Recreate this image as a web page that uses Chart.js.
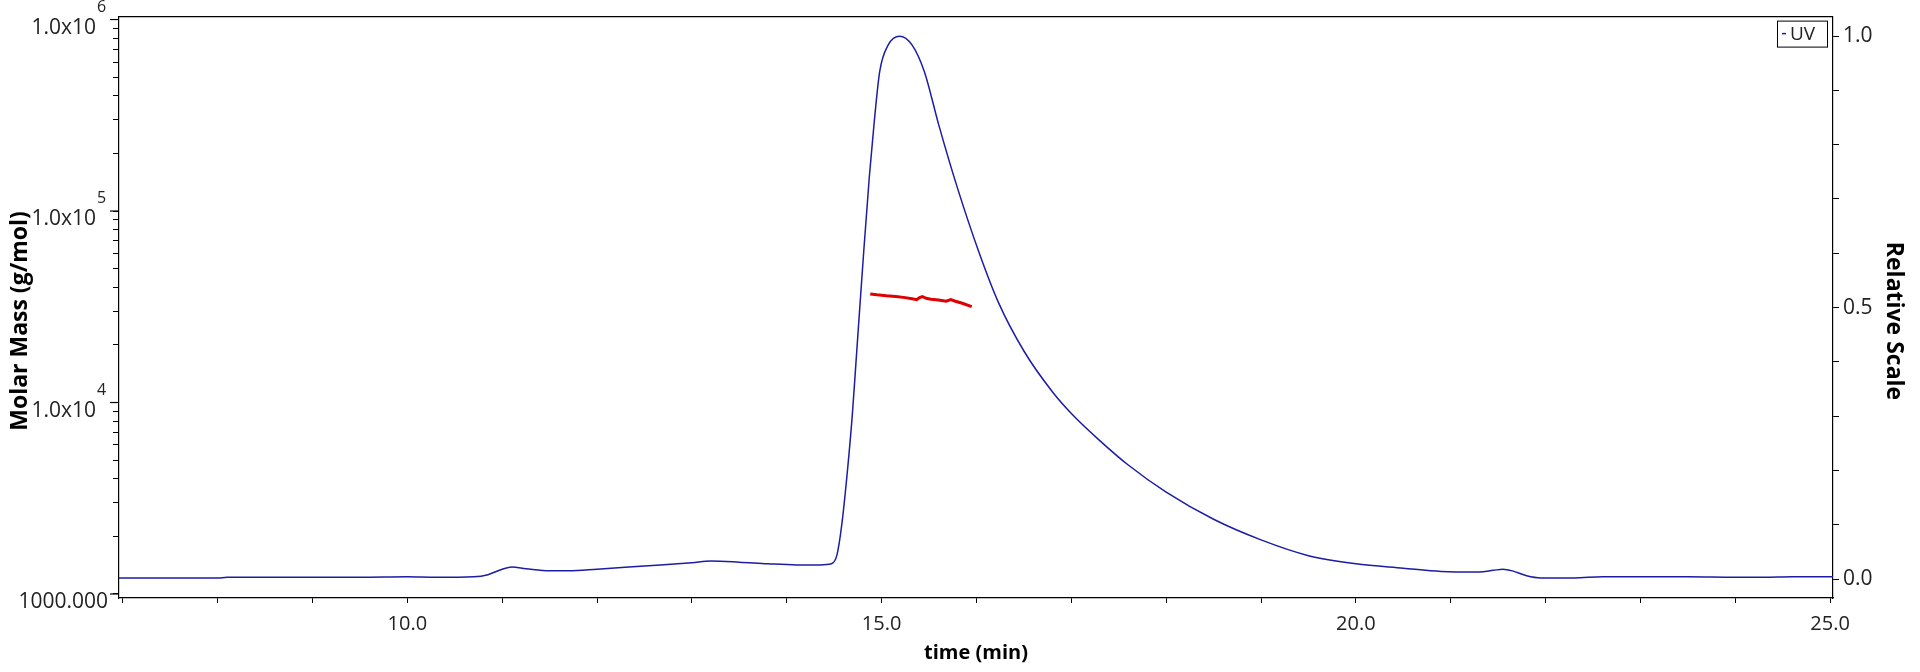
<!DOCTYPE html>
<html>
<head>
<meta charset="utf-8">
<script src="https://cdn.jsdelivr.net/npm/chart.js@4.4.1/dist/chart.umd.min.js"></script>
<style>
    html, body { margin: 0; padding: 0; background: #fff; }
</style>
</head>
<body>
<canvas id="secChart" width="1920" height="672"></canvas>
<script>
// UV trace (relative scale, right axis)
const uvTime = [6.96, 8.0, 8.1, 8.8, 9.5, 10.0, 10.3, 10.7, 10.85, 11.0, 11.1, 11.25, 11.5, 11.7, 12.0, 12.5, 13.0, 13.2, 13.5, 13.8, 14.1, 14.35, 14.47, 14.53, 14.58, 14.64, 14.69, 14.73, 14.81, 14.87, 14.92, 14.98, 15.07, 15.19, 15.32, 15.45, 15.60, 15.80, 16.03, 16.23, 16.5, 16.8, 17.0, 17.3, 17.6, 18.0, 18.5, 19.0, 19.5, 20.0, 20.5, 20.9, 21.3, 21.45, 21.55, 21.65, 21.8, 21.95, 22.3, 22.6, 23.5, 24.0, 24.3, 24.6, 25.03];
const uvValue = [0.002, 0.002, 0.003, 0.003, 0.003, 0.004, 0.003, 0.004, 0.008, 0.018, 0.022, 0.019, 0.015, 0.015, 0.018, 0.024, 0.030, 0.033, 0.031, 0.028, 0.026, 0.026, 0.028, 0.045, 0.10, 0.20, 0.30, 0.40, 0.60, 0.74, 0.838, 0.935, 0.984, 1.0, 0.984, 0.935, 0.838, 0.72, 0.60, 0.51, 0.42, 0.345, 0.305, 0.255, 0.21, 0.16, 0.11, 0.072, 0.043, 0.028, 0.02, 0.014, 0.013, 0.016, 0.018, 0.015, 0.006, 0.002, 0.002, 0.004, 0.004, 0.003, 0.003, 0.004, 0.004];

// molar mass across the peak (left log axis)
const massTime = [14.88, 14.95, 15.05, 15.15, 15.25, 15.32, 15.37, 15.40, 15.43, 15.47, 15.52, 15.60, 15.68, 15.73, 15.77, 15.85, 15.95];
const massValue = [36900, 36500, 36100, 35800, 35300, 34800, 34400, 35300, 35700, 35000, 34600, 34300, 33800, 34500, 33900, 33000, 31700];

// axis ticks
const timeTicks = [7, 8, 9, 10, 11, 12, 13, 14, 15, 16, 17, 18, 19, 20, 21, 22, 23, 24, 25];
const timeLabels = [10, 15, 20, 25];
const massTicks = [1000, 2000, 3000, 4000, 5000, 6000, 7000, 8000, 9000,
    10000, 20000, 30000, 40000, 50000, 60000, 70000, 80000, 90000,
    100000, 200000, 300000, 400000, 500000, 600000, 700000, 800000, 900000, 1000000];
const massLabels = [1000, 10000, 100000, 1000000];
const relTicks = [0, 0.1, 0.2, 0.3, 0.4, 0.5, 0.6, 0.7, 0.8, 0.9, 1.0];
const relLabels = [0, 0.5, 1.0];

const FONT = '"Open Sans", "Noto Sans", sans-serif';
const UV_COLOR = '#1c1ca6';
const MASS_COLOR = '#e00000';

// custom decorations: top frame line, 1.0x10^n labels, y titles, legend box
const decorations = {
    id: 'decorations',
    afterDraw(chart) {
        const ctx = chart.ctx;
        const area = chart.chartArea;
        const yMass = chart.scales.y;
        ctx.save();

        ctx.strokeStyle = '#000';
        ctx.lineWidth = 1.2;
        ctx.beginPath();
        ctx.moveTo(area.left, area.top);
        ctx.lineTo(area.right, area.top);
        ctx.stroke();

        ctx.fillStyle = '#222';
        ctx.textBaseline = 'alphabetic';
        massLabels.forEach(v => {
            const py = yMass.getPixelForValue(v);
            ctx.beginPath();
            ctx.moveTo(area.left - 9, py);
            ctx.lineTo(area.left, py);
            ctx.stroke();
            if (v === 1000) {
                ctx.font = '21px ' + FONT;
                ctx.textAlign = 'right';
                ctx.fillText('1000.000', area.left - 11, py + 14);
            } else {
                ctx.font = '21px ' + FONT;
                ctx.textAlign = 'right';
                ctx.fillText('1.0x10', area.left - 23, py + 14);
                ctx.font = '16px ' + FONT;
                ctx.textAlign = 'left';
                ctx.fillText(String(Math.round(Math.log10(v))), area.left - 22, py - 8);
            }
        });

        // axis titles for the two y scales
        ctx.fillStyle = '#000';
        ctx.font = 'bold 23px ' + FONT;
        ctx.textAlign = 'center';
        ctx.textBaseline = 'middle';
        ctx.save();
        ctx.translate(20, 321);
        ctx.rotate(-Math.PI / 2);
        ctx.fillText('Molar Mass (g/mol)', 0, 0);
        ctx.restore();
        ctx.save();
        ctx.translate(1894, 321);
        ctx.rotate(Math.PI / 2);
        ctx.fillText('Relative Scale', 0, 0);
        ctx.restore();

        // legend
        const bx = area.right - 56, by = area.top + 4;
        ctx.strokeStyle = '#000';
        ctx.lineWidth = 1;
        ctx.strokeRect(bx + 0.5, by + 0.5, 50, 26);
        ctx.strokeStyle = UV_COLOR;
        ctx.lineWidth = 1.5;
        ctx.beginPath();
        ctx.moveTo(bx + 5, by + 13);
        ctx.lineTo(bx + 9, by + 13);
        ctx.stroke();
        ctx.fillStyle = '#222';
        ctx.font = '19px ' + FONT;
        ctx.textAlign = 'left';
        ctx.textBaseline = 'middle';
        ctx.fillText('UV', bx + 13, by + 14);
        ctx.restore();
    }
};

const ctx = document.getElementById('secChart').getContext('2d');
const secChart = new Chart(ctx, {
    type: 'line',
    data: {
        datasets: [
            {
                label: 'Molar Mass',
                data: massTime.map((t, i) => ({x: t, y: massValue[i]})),
                yAxisID: 'y',
                borderColor: MASS_COLOR,
                borderWidth: 3,
                pointRadius: 0,
                tension: 0
            },
            {
                label: 'UV',
                data: uvTime.map((t, i) => ({x: t, y: uvValue[i]})),
                yAxisID: 'y1',
                borderColor: UV_COLOR,
                borderWidth: 1.5,
                pointRadius: 0,
                cubicInterpolationMode: 'monotone'
            }
        ]
    },
    options: {
        responsive: false,
        animation: false,
        devicePixelRatio: 1,
        layout: { padding: { top: 11, left: 0, right: 0, bottom: 0 } },
        plugins: {
            legend: { display: false },
            tooltip: { enabled: false }
        },
        scales: {
            x: {
                type: 'linear',
                min: 6.96,
                max: 25.03,
                afterFit: s => { s.height = 74; },
                afterBuildTicks: s => { s.ticks = timeTicks.map(v => ({value: v})); },
                grid: { drawOnChartArea: false, tickLength: 5, color: '#000' },
                border: { color: '#000', width: 1.2 },
                ticks: {
                    autoSkip: false,
                    maxRotation: 0,
                    padding: 9,
                    color: '#222',
                    font: { family: FONT, size: 20 },
                    callback: v => timeLabels.includes(v) ? v.toFixed(1) : ''
                },
                title: {
                    display: true,
                    text: 'time (min)',
                    color: '#000',
                    font: { family: FONT, size: 20, weight: 'bold' },
                    padding: { top: 0, bottom: 7 }
                }
            },
            y: {
                type: 'logarithmic',
                position: 'left',
                min: 953,
                max: 1036000,
                afterFit: s => { s.width = 119; },
                afterBuildTicks: s => { s.ticks = massTicks.map(v => ({value: v})); },
                grid: { drawOnChartArea: false, tickLength: 6, color: '#000' },
                border: { color: '#000', width: 1.2 },
                ticks: { autoSkip: false, callback: () => '' }
            },
            y1: {
                type: 'linear',
                position: 'right',
                min: -0.035,
                max: 1.036,
                afterFit: s => { s.width = 87; },
                afterBuildTicks: s => { s.ticks = relTicks.map(v => ({value: v})); },
                grid: { drawOnChartArea: false, tickLength: 6, color: '#000' },
                border: { color: '#000', width: 1.2 },
                ticks: {
                    autoSkip: false,
                    padding: 4,
                    color: '#222',
                    font: { family: FONT, size: 21 },
                    callback: v => relLabels.includes(v) ? v.toFixed(1) : ''
                }
            }
        }
    },
    plugins: [decorations]
});
</script>
</body>
</html>
